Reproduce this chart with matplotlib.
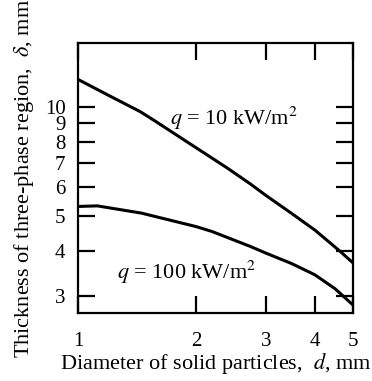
import matplotlib
matplotlib.use('Agg')
import matplotlib.pyplot as plt
from matplotlib.ticker import NullLocator, FixedLocator, FixedFormatter

plt.rcParams['font.family'] = ['Liberation Serif', 'DejaVu Serif']
plt.rcParams['mathtext.fontset'] = 'stix'

# データ
d_q10 = [1.0, 1.2, 1.44, 1.57, 2.0, 2.4, 2.74, 3.0, 3.5, 4.0, 4.64, 5.0]
delta_q10 = [11.9, 10.73, 9.69, 9.13, 7.69, 6.76, 6.12, 5.69, 5.06, 4.56, 3.98, 3.70]

d_q100 = [1.0, 1.12, 1.45, 2.0, 2.19, 2.74, 3.0, 3.5, 4.0, 4.5, 5.0]
delta_q100 = [5.30, 5.32, 5.08, 4.66, 4.52, 4.11, 3.94, 3.68, 3.43, 3.14, 2.83]

x_ticks = [1, 2, 3, 4, 5]
y_ticks = [3, 4, 5, 6, 7, 8, 9, 10]

fig = plt.figure(figsize=(3.72, 3.81), dpi=100)
ax = fig.add_axes([0.2097, 0.1785, 0.7393, 0.7085])

ax.plot(d_q10, delta_q10, color='black', lw=2.2)
ax.plot(d_q100, delta_q100, color='black', lw=2.2)

ax.set_xscale('log')
ax.set_yscale('log')
ax.set_xlim(1, 5)
ax.set_ylim(2.69, 15.0)

ax.xaxis.set_major_locator(FixedLocator(x_ticks))
ax.xaxis.set_major_formatter(FixedFormatter([str(v) for v in x_ticks]))
ax.xaxis.set_minor_locator(NullLocator())
ax.yaxis.set_major_locator(FixedLocator(y_ticks))
ax.yaxis.set_major_formatter(FixedFormatter([str(v) for v in y_ticks]))
ax.yaxis.set_minor_locator(NullLocator())

ax.tick_params(axis='both', which='major', direction='in', length=12, width=1.6,
               top=True, right=True, labelsize=15)
ax.tick_params(axis='x', pad=14)
ax.tick_params(axis='y', pad=9)
for s in ax.spines.values():
    s.set_linewidth(1.6)

ax.text(2.49, 9.3, r'$q$ = 10 kW/m$^2$', fontsize=16, ha='center', va='center')
ax.text(1.89, 3.49, r'$q$ = 100 kW/m$^2$', fontsize=16, ha='center', va='center')

ax.set_xlabel(r'Diameter of solid particles,  $d$, mm', fontsize=16, labelpad=0)
ax.set_ylabel(r'Thickness of three-phase region,  $\delta$, mm', fontsize=16, labelpad=6)

fig.savefig('out.png', dpi=100)
